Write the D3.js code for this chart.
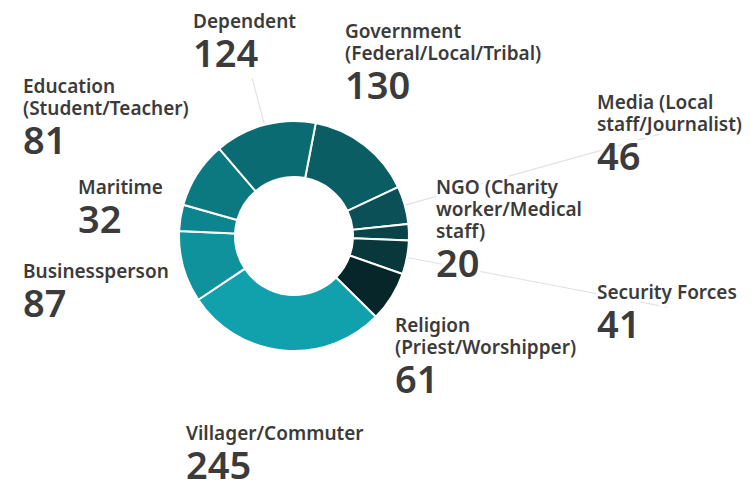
<!DOCTYPE html>
<html lang="en">
<head>
    <meta charset="UTF-8">
    <title>Victims by category</title>
    <script src="https://d3js.org/d3.v7.min.js"></script>
    <style>
        body { margin: 0; background: #fff; }
        .name { font-family: "Noto Sans", sans-serif; font-size: 19px; font-weight: 600; fill: #3b3b3b; }
        .num { font-family: "Noto Sans", sans-serif; font-size: 38px; font-weight: 600; fill: #3b3b3b; }
        .halo { stroke: #fff; stroke-width: 6px; stroke-linejoin: round; paint-order: stroke; }
    </style>
</head>
<body>
    <div id="chart"></div>

    <script>
        // categories, clockwise from the top
        const categories = [
            "Government\n(Federal/Local/Tribal)",
            "Media (Local\nstaff/Journalist)",
            "NGO (Charity\nworker/Medical\nstaff)",
            "Security Forces",
            "Religion\n(Priest/Worshipper)",
            "Villager/Commuter",
            "Businessperson",
            "Maritime",
            "Education\n(Student/Teacher)",
            "Dependent"
        ];
        const values = [130, 46, 20, 41, 61, 245, 87, 32, 81, 124];

        const colors = ["#0a5d63", "#0a5056", "#094449", "#08383c", "#06262a",
                        "#10a1ad", "#0f929c", "#0d858f", "#0c7880", "#0b6b72"];

        // label placement: left x, first baseline, leader line outer radius (0 = none)
        const labelX = [345, 597, 436, 597, 395, 186, 23, 78, 23, 193];
        const labelY = [38, 109, 194, 299, 332, 440, 278, 194, 93, 28];
        const leaderR = [0, 383, 0, 380, 0, 0, 0, 0, 0, 163];

        const width = 751, height = 481;
        const cx = 294, cy = 236, outerR = 115, innerR = 59;

        const svg = d3.select("#chart")
            .append("svg")
            .attr("width", width)
            .attr("height", height);

        const data = categories.map((c, i) => ({ name: c, value: values[i], i: i }));

        const start = 0.19;
        const pie = d3.pie()
            .value(d => d.value)
            .sort(null)
            .startAngle(start)
            .endAngle(start + 2 * Math.PI);

        const arcs = pie(data);

        const arc = d3.arc().innerRadius(innerR).outerRadius(outerR);

        const g = svg.append("g").attr("transform", `translate(${cx},${cy})`);

        // leader lines (under everything)
        g.selectAll("line.leader")
            .data(arcs.filter(d => leaderR[d.data.i] > 0))
            .join("line")
            .attr("class", "leader")
            .attr("x1", d => Math.sin((d.startAngle + d.endAngle) / 2) * outerR)
            .attr("y1", d => -Math.cos((d.startAngle + d.endAngle) / 2) * outerR)
            .attr("x2", d => Math.sin((d.startAngle + d.endAngle) / 2) * leaderR[d.data.i])
            .attr("y2", d => -Math.cos((d.startAngle + d.endAngle) / 2) * leaderR[d.data.i])
            .attr("stroke", "#e2e2e2")
            .attr("stroke-width", 1.2);

        g.selectAll("path.slice")
            .data(arcs)
            .join("path")
            .attr("class", "slice")
            .attr("d", arc)
            .attr("fill", d => colors[d.data.i])
            .attr("stroke", "#fff")
            .attr("stroke-width", 2);

        // labels
        const lab = svg.selectAll("g.label")
            .data(data)
            .join("g")
            .attr("class", "label")
            .attr("transform", d => `translate(${labelX[d.i]},${labelY[d.i]})`);

        lab.each(function(d) {
            const lines = d.name.split("\n");
            const sel = d3.select(this);
            lines.forEach((t, k) => {
                sel.append("text")
                    .attr("class", "name halo")
                    .attr("y", k * 22)
                    .text(t);
            });
            sel.append("text")
                .attr("class", "num halo")
                .attr("y", (lines.length - 1) * 22 + 39)
                .text(d.value);
        });
    </script>
</body>
</html>
